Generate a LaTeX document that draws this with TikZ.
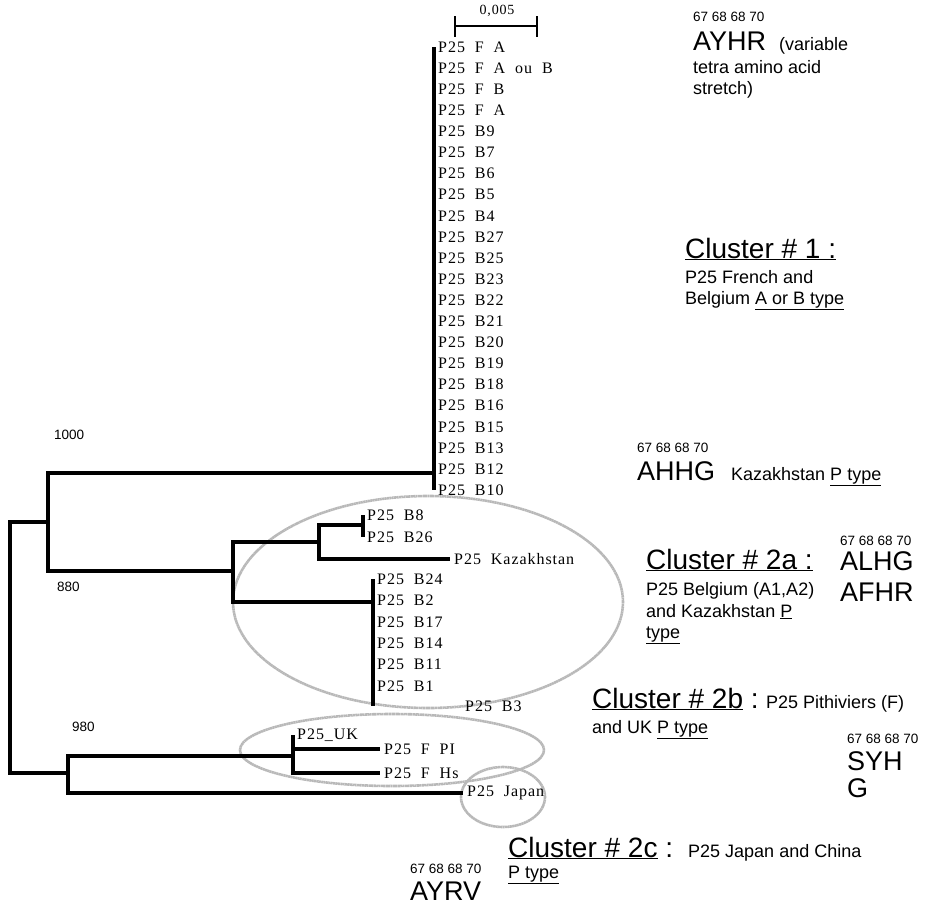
\documentclass[tikz,border=0pt]{standalone}
\usepackage{fontspec}
\setmainfont{Liberation Serif}
\setsansfont{Liberation Sans}
\newfontfamily\leaffont[LetterSpace=6]{Liberation Serif}
\usetikzlibrary{positioning,calc}

\begin{document}
\begin{tikzpicture}[x=1pt,y=-1pt,
 branch/.style={line width=4.5pt},
 leaf/.style={anchor=west,inner xsep=4pt,inner ysep=1pt,font=\leaffont\fontsize{16}{16}\selectfont},
 boot/.style={anchor=west,inner sep=0pt,font=\sffamily\fontsize{13.5}{14}\selectfont},
 ring/.style={draw=black!28,line width=2.6pt,dash pattern=on 2pt off 0.4pt},
 num/.style={anchor=base west,inner sep=0pt,font=\sffamily\fontsize{13.5}{14}\selectfont},
 code/.style={anchor=base west,inner sep=0pt,font=\sffamily\fontsize{27}{28}\selectfont},
 note/.style={anchor=base west,inner sep=0pt,font=\sffamily\fontsize{18}{20}\selectfont},
 head/.style={anchor=base west,inner sep=0pt,font=\sffamily\fontsize{28}{29}\selectfont}]
\useasboundingbox (0,0) rectangle (927,906);

\draw[ring] (428,602) ellipse [x radius=195pt,y radius=106pt];
\draw[ring] (392,750) ellipse [x radius=152pt,y radius=36pt];
\draw[ring] (503,797) ellipse [x radius=42pt,y radius=30pt];

\coordinate (sbl) at (455,26);
\coordinate (sbr) at (537,26);
\draw[line width=1.6pt] (sbl) -- (sbr);
\draw[line width=1.6pt] ([yshift=10pt]sbl) -- ([yshift=-11pt]sbl);
\draw[line width=1.6pt] ([yshift=10pt]sbr) -- ([yshift=-11pt]sbr);
\node[font=\leaffont\fontsize{14}{14}\selectfont] (sblabel) at (497,11) {0,005};

\coordinate (root) at (10,647);
\coordinate (nA) at (48,522);
\coordinate (c1) at (434,473);
\coordinate (nD) at (233,571);
\coordinate (nE) at (319,542);
\coordinate (nF) at (363,525);
\coordinate (nG) at (373,602);
\coordinate (nB) at (68,773);
\coordinate (nC) at (293,756);

\foreach \l [count=\i from 0] in {F~~A,F~~A~~ou~~B,F~~B,F~~A,B9,B7,B6,B5,B4,B27,B25,B23,B22,B21,B20,B19,B18,B16,B15,B13,B12,B10}
  \node[leaf] (t\i) at (434,47+21.1*\i) {P25~~\l};
\node[leaf] (b8) at (363,515) {P25~~B8};
\node[leaf] (b26) at (363,537) {P25~~B26};
\node[leaf] (kaz) at (450,559) {P25~~Kazakhstan};
\foreach \l [count=\i from 0] in {B24,B2,B17,B14,B11,B1}
  \node[leaf] (g\i) at (373,579+21.4*\i) {P25~~\l};
\node[leaf] (b3) at (461,706) {P25~~B3};
\node[leaf] (uk) at (293,735) {P25\_UK};
\node[leaf] (fpi) at (380,749) {P25~~F~~PI};
\node[leaf] (fhs) at (380,773) {P25~~F~~Hs};
\node[leaf] (jap) at (463,793) {P25~~Japan};

\draw[branch] (root) |- (nA);
\draw[branch] (root) |- (nB);
\draw[branch] (nA) |- (c1);
\draw[branch] (nA) |- (nD);
\draw[branch] (c1 |- t0.west) -- (c1 |- t21.west);
\draw[branch] (nD) |- (nE);
\draw[branch] (nD) |- (nG);
\draw[branch] (nE) |- (nF);
\draw[branch] (nE) |- (kaz.west);
\draw[branch] (nF |- b8.west) -- (nF |- b26.west);
\draw[branch] (nG |- g0.west) -- (nG |- b3.west);
\draw[branch] (nB) |- (nC);
\draw[branch] (nB) |- (jap.west);
\draw[branch] (nC |- uk.west) -- (nC |- fhs.west);
\draw[branch] (nC) |- (fpi.west);
\draw[branch] (nC) |- (fhs.west);

\node[boot] (bs1) at (54,435) {1000};
\node[boot] (bs2) at (57,587) {880};
\node[boot] (bs3) at (72,727) {980};

\node[num] (p1) at (693,21) {67 68 68 70};
\node[code] (ayhr) at (693,50) {AYHR};
\node[note] (ayhrn) at (779,50) {(variable};
\node[note] at (693,73) {tetra amino acid};
\node[note] at (693,94) {stretch)};

\node[head] (cl1) at (685,258) {\underline{Cluster \# 1 :}};
\node[note] at (685,283) {P25 French and};
\node[note] at (685,304) {Belgium \underline{A or B type}};

\node[num] (p2) at (637,452) {67 68 68 70};
\node[code] (ahhg) at (637,480) {AHHG};
\node[note] at (731,480) {Kazakhstan \underline{P type}};

\node[head] (cl2a) at (646,569) {\underline{Cluster \# 2a :}};
\node[note] at (646,595) {P25 Belgium (A1,A2)};
\node[note] at (646,617) {and Kazakhstan \underline{P}};
\node[note] at (646,638) {\underline{type}};
\node[num] (p3) at (840,545) {67 68 68 70};
\node[code] (alhg) at (840,570) {ALHG};
\node[code] (afhr) at (840,601) {AFHR};

\node[head] (cl2b) at (592,708) {\underline{Cluster \# 2b} :};
\node[note] at (766,708) {P25 Pithiviers (F)};
\node[note] at (592,733) {and UK \underline{P type}};
\node[num] (p4) at (847,743) {67 68 68 70};
\node[code] (syh) at (847,770) {SYH};
\node[code] at (847,797) {G};

\node[head] (cl2c) at (508,857) {\underline{Cluster \# 2c} :};
\node[note] at (688,857) {P25 Japan and China};
\node[note] at (508,878) {\underline{P type}};
\node[num] (p5) at (410,873) {67 68 68 70};
\node[code] (ayrv) at (410,900) {AYRV};
\end{tikzpicture}
\end{document}
